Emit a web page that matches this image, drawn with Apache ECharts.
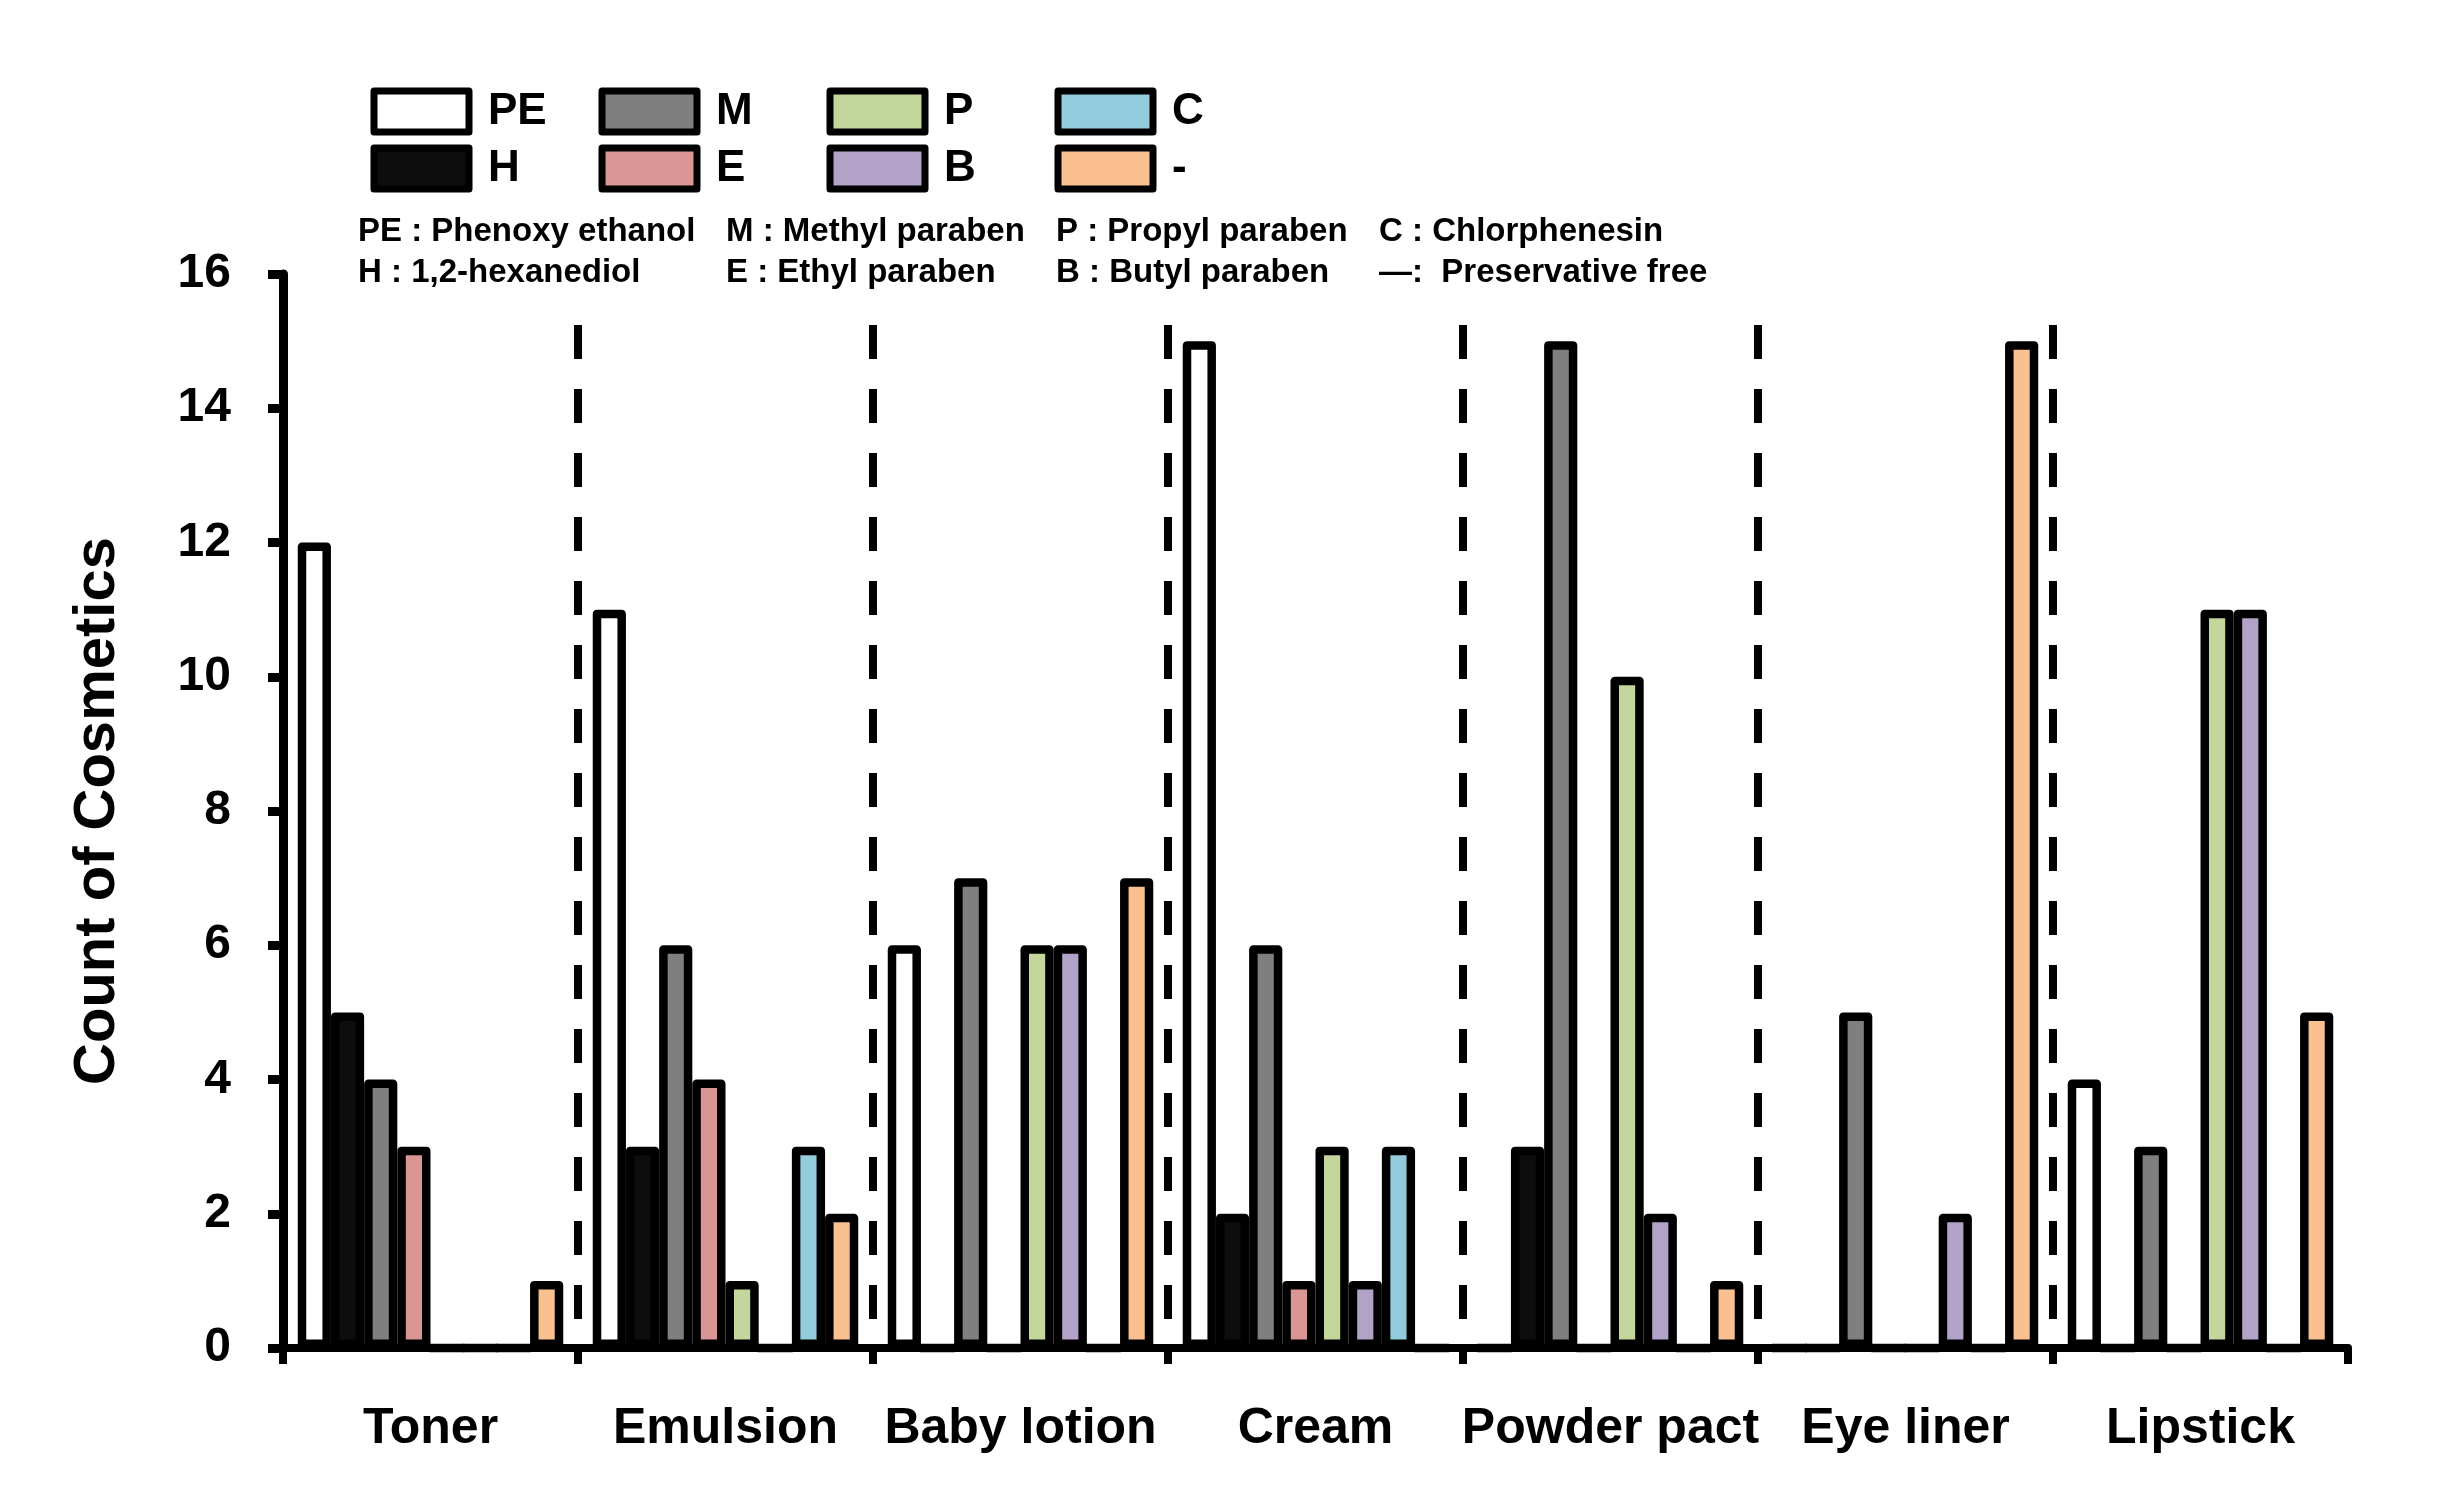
<!DOCTYPE html>
<html>
<head>
<meta charset="utf-8">
<script src="https://cdn.jsdelivr.net/npm/echarts@6/dist/echarts.min.js"></script>
<style>
html,body{margin:0;padding:0;background:#fff;}
#chart{width:2463px;height:1487px;}
</style>
</head>
<body>
<div id="chart"></div>
<script>
// ---- data ----
const categories = ['Toner', 'Emulsion', 'Baby lotion', 'Cream', 'Powder pact', 'Eye liner', 'Lipstick'];
const seriesNames = ['PE', 'H', 'M', 'E', 'P', 'B', 'C', '-'];
const PE = [12, 11, 6, 15, 0, 0, 4];
const H  = [5, 3, 0, 2, 3, 0, 0];
const M  = [4, 6, 7, 6, 15, 5, 3];
const E  = [3, 4, 0, 1, 0, 0, 0];
const P  = [0, 1, 6, 3, 10, 0, 11];
const B  = [0, 0, 6, 1, 2, 2, 11];
const C  = [0, 3, 0, 3, 0, 0, 0];
const NONE = [1, 2, 7, 0, 1, 15, 5];
const yTicks = [0, 2, 4, 6, 8, 10, 12, 14, 16];
const notesRow1 = ['PE : Phenoxy ethanol', 'M : Methyl paraben', 'P : Propyl paraben', 'C : Chlorphenesin'];
const notesRow2 = ['H : 1,2-hexanediol', 'E : Ethyl paraben', 'B : Butyl paraben', '\u2014:  Preservative free'];

// ---- styles ----
const colors = {'PE':'#ffffff','H':'#0d0d0d','M':'#7f7f7f','E':'#d99694','P':'#c3d69b','B':'#b3a2c7','C':'#93cddd','-':'#fac090'};
const values = {'PE':PE,'H':H,'M':M,'E':E,'P':P,'B':B,'C':C,'-':NONE};
const FONT = 'Liberation Sans, Arial, sans-serif';
const SEP_TOP = 15.24;

const chart = echarts.init(document.getElementById('chart'), null, {renderer:'canvas'});

const barSeries = seriesNames.map(n => ({
  name: n,
  type: 'bar',
  xAxisIndex: 0,
  data: values[n],
  barGap: '0%',
  barCategoryGap: '10%',
  itemStyle: {color: colors[n], borderColor: '#000', borderWidth: 8.5, borderJoin: 'round'},
  emphasis: {disabled: true},
  z: 2
}));

const sepData = [];
for (let i = 1; i < categories.length; i++) {
  sepData.push([{coord: [i, SEP_TOP]}, {coord: [i, 0]}]);
}

// legends: row 1 = PE, M, P, C ; row 2 = H, E, B, -
const legendCols = [367, 595, 823, 1051];
const legendRows = [[ 'PE','M','P','C' ], [ 'H','E','B','-' ]];
const legendTops = [84, 141];
const legends = [];
legendRows.forEach((row, r) => {
  row.forEach((name, c) => {
    legends.push({
      data: [name],
      left: legendCols[c] + 3.5,
      top: legendTops[r] + 3.5,
      padding: 0,
      itemWidth: 95,
      itemHeight: 41,
      icon: 'rect',
      selectedMode: false,
      itemStyle: {borderColor: '#000', borderWidth: 7},
      textStyle: {fontSize: 44, fontWeight: 'bold', fontFamily: FONT, color: '#000', lineHeight: 41, padding: [0, 0, 0, 14]}
    });
  });
});

const noteCols = [358, 726, 1056, 1379];
const graphics = [];
notesRow1.forEach((t, i) => graphics.push({type:'text', left: noteCols[i], top: 215,
  style:{text:t, fontSize:33, fontWeight:'bold', fontFamily:FONT, fill:'#000'}}));
notesRow2.forEach((t, i) => graphics.push({type:'text', left: noteCols[i], top: 256,
  style:{text:t, fontSize:33, fontWeight:'bold', fontFamily:FONT, fill:'#000'}}));

const option = {
  backgroundColor: '#fff',
  animation: false,
  grid: {left: 283, right: 115, top: 274, bottom: 139, containLabel: false},
  legend: legends,
  graphic: graphics,
  xAxis: [{
    type: 'category',
    data: categories,
    axisLine: {lineStyle: {color: '#000', width: 8}},
    axisTick: {show: true, length: 16, lineStyle: {color: '#000', width: 8}},
    axisLabel: {interval: 0, fontSize: 50, fontWeight: 'bold', fontFamily: FONT, color: '#000', margin: 56},
    splitLine: {show: false}
  }, {
    type: 'value', min: 0, max: categories.length, show: false
  }],
  yAxis: {
    type: 'value',
    min: yTicks[0], max: yTicks[yTicks.length - 1], interval: 2,
    name: 'Count of Cosmetics',
    nameLocation: 'middle',
    nameGap: 156,
    nameRotate: 90,
    nameTextStyle: {fontSize: 58, fontWeight: 'bold', fontFamily: FONT, color: '#000'},
    axisLine: {show: true, lineStyle: {color: '#000', width: 9}},
    axisTick: {show: true, length: 15, lineStyle: {color: '#000', width: 9}},
    axisLabel: {fontSize: 48, fontWeight: 'bold', fontFamily: FONT, color: '#000', margin: 52},
    splitLine: {show: false}
  },
  series: barSeries.concat([{
    name: 'sep',
    type: 'line',
    xAxisIndex: 1,
    data: [],
    silent: true,
    z: 5,
    markLine: {
      silent: true,
      symbol: ['none', 'none'],
      label: {show: false},
      lineStyle: {color: '#000', width: 8, type: [34, 30]},
      emphasis: {disabled: true},
      data: sepData
    }
  }])
};
chart.setOption(option);
</script>
</body>
</html>
